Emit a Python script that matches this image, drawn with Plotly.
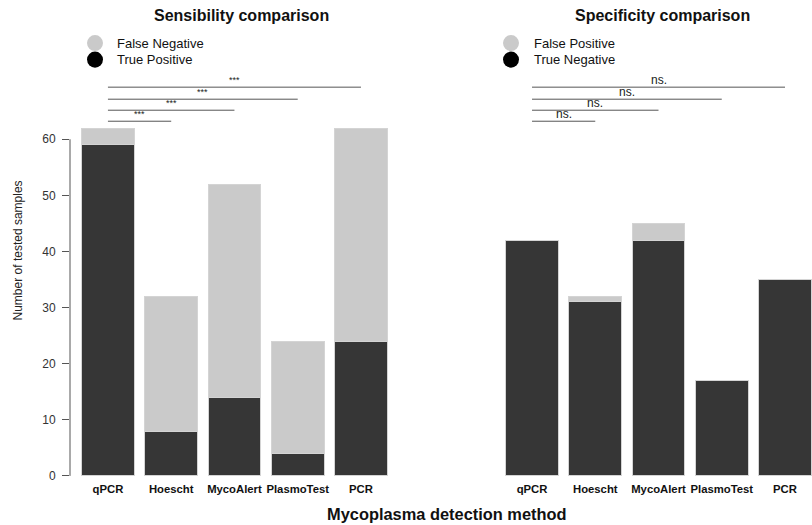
import plotly.graph_objects as go

W, H = 812, 525      # reference picture size (all positions below are read in these pixels)
FIG_H = 533          # page height as photographed (picture is rescaled to 525)

methods = ["qPCR", "Hoescht", "MycoAlert", "PlasmoTest", "PCR"]
true_positive = [59, 8, 14, 4, 24]
false_negative = [3, 24, 38, 20, 38]
true_negative = [42, 31, 42, 17, 35]
false_positive = [0, 1, 3, 0, 0]
sens_signif = ["***", "***", "***", "***"]
spec_signif = ["ns.", "ns.", "ns.", "ns."]
y_ticks = [0, 10, 20, 30, 40, 50, 60]

DARK = "#363636"
LIGHT = "#cacaca"
FONT = "Liberation Sans, Arial, sans-serif"


def px(x):
    return x / W


def py(y):
    return (H - y) / H


fig = go.Figure()
bar_line = dict(color="#d4d4d4", width=1)
fig.add_trace(go.Bar(x=methods, y=true_positive, marker=dict(color=DARK, line=bar_line),
                     xaxis="x", yaxis="y", name="True Positive", showlegend=False))
fig.add_trace(go.Bar(x=methods, y=false_negative, marker=dict(color=LIGHT, line=bar_line),
                     xaxis="x", yaxis="y", name="False Negative", showlegend=False))
fig.add_trace(go.Bar(x=methods, y=true_negative, marker=dict(color=DARK, line=bar_line),
                     xaxis="x2", yaxis="y2", name="True Negative", showlegend=False))
fig.add_trace(go.Bar(x=methods, y=false_positive, marker=dict(color=LIGHT, line=bar_line),
                     xaxis="x2", yaxis="y2", name="False Positive", showlegend=False))

ydom = [py(475), py(475 - 64 * 5.6)]
xcommon = dict(type="category", showline=False, showgrid=False, zeroline=False, ticks="",
               tickangle=0,
               tickfont=dict(family=FONT, size=11.3, color="#111", weight="bold"),
               ticklabelstandoff=5)
fig.update_layout(
    width=W, height=FIG_H, margin=dict(l=0, r=0, t=0, b=0),
    paper_bgcolor="white", plot_bgcolor="white",
    barmode="stack", bargap=0.167, showlegend=False,
    font=dict(family=FONT, color="#111"),
    xaxis=dict(domain=[px(70), px(392.6)], range=[-0.6, 4.5], **xcommon),
    xaxis2=dict(domain=[px(500.4), 1.0], range=[-0.5, 4.427], **xcommon),
    yaxis=dict(domain=ydom, range=[0, 64], anchor="x", tickvals=y_ticks,
               ticks="outside", ticklen=7, tickcolor="#555", tickwidth=1,
               showline=False, showgrid=False, zeroline=False,
               tickfont=dict(family=FONT, size=12, color="#333"), ticklabelstandoff=4),
    yaxis2=dict(domain=ydom, range=[0, 64], anchor="x2", visible=False),
)

shapes = []
annotations = []
# y axis line from 0 to 60
shapes.append(dict(type="line", xref="paper", yref="y", x0=px(70), x1=px(70),
                   y0=y_ticks[0], y1=y_ticks[-1], line=dict(color="#555", width=1)))

# significance brackets
line_ys = [121, 110, 99, 87]
for i in range(4):
    yp = py(line_ys[i])
    for xr, labels, fsize in (("x", sens_signif, 9), ("x2", spec_signif, 12)):
        shapes.append(dict(type="line", xref=xr, yref="paper", x0=0, x1=i + 1, y0=yp, y1=yp,
                           line=dict(color="#555", width=1)))
        annotations.append(dict(xref=xr, yref="paper", x=(i + 1) / 2, y=yp, text=labels[i],
                                showarrow=False, xanchor="center", yanchor="bottom",
                                yshift=-2 if fsize == 12 else 0,
                                font=dict(family=FONT, size=fsize, color="#222")))

# legends
legend_items = [
    (95, 115, [("False Negative", LIGHT), ("True Positive", "#000")]),
    (511, 532, [("False Positive", LIGHT), ("True Negative", "#000")]),
]
for cx, tx, items in legend_items:
    for j, (label, col) in enumerate(items):
        cy = 43 + 16.5 * j
        shapes.append(dict(type="circle", xref="paper", yref="paper",
                           x0=px(cx - 8), x1=px(cx + 8), y0=py(cy + 8), y1=py(cy - 8),
                           fillcolor=col, line=dict(width=0)))
        annotations.append(dict(xref="paper", yref="paper", x=px(tx), y=py(cy), text=label,
                                showarrow=False, xanchor="left", yanchor="middle",
                                font=dict(family=FONT, size=13, color="#111")))


def label(x, y, text, size, angle=0, color="#111"):
    annotations.append(dict(xref="paper", yref="paper", x=px(x), y=py(y), text=text,
                            showarrow=False, xanchor="center", yanchor="middle", textangle=angle,
                            font=dict(family=FONT, size=size, color=color)))


label(241, 15, "<b>Sensibility comparison</b>", 16)
label(662, 15, "<b>Specificity comparison</b>", 16)
label(447, 513, "<b>Mycoplasma detection method</b>", 16.4)
label(18, 250, "Number of tested samples", 12, angle=-90, color="#222")

fig.update_layout(shapes=shapes, annotations=annotations)
page_fix = (
    "var d=document.documentElement,b=document.body;"
    "[d,b].forEach(function(e){e.style.margin='0';e.style.padding='0';e.style.overflow='hidden';});"
)
fig.write_html("out.html", config={"displayModeBar": False}, post_script=page_fix)
